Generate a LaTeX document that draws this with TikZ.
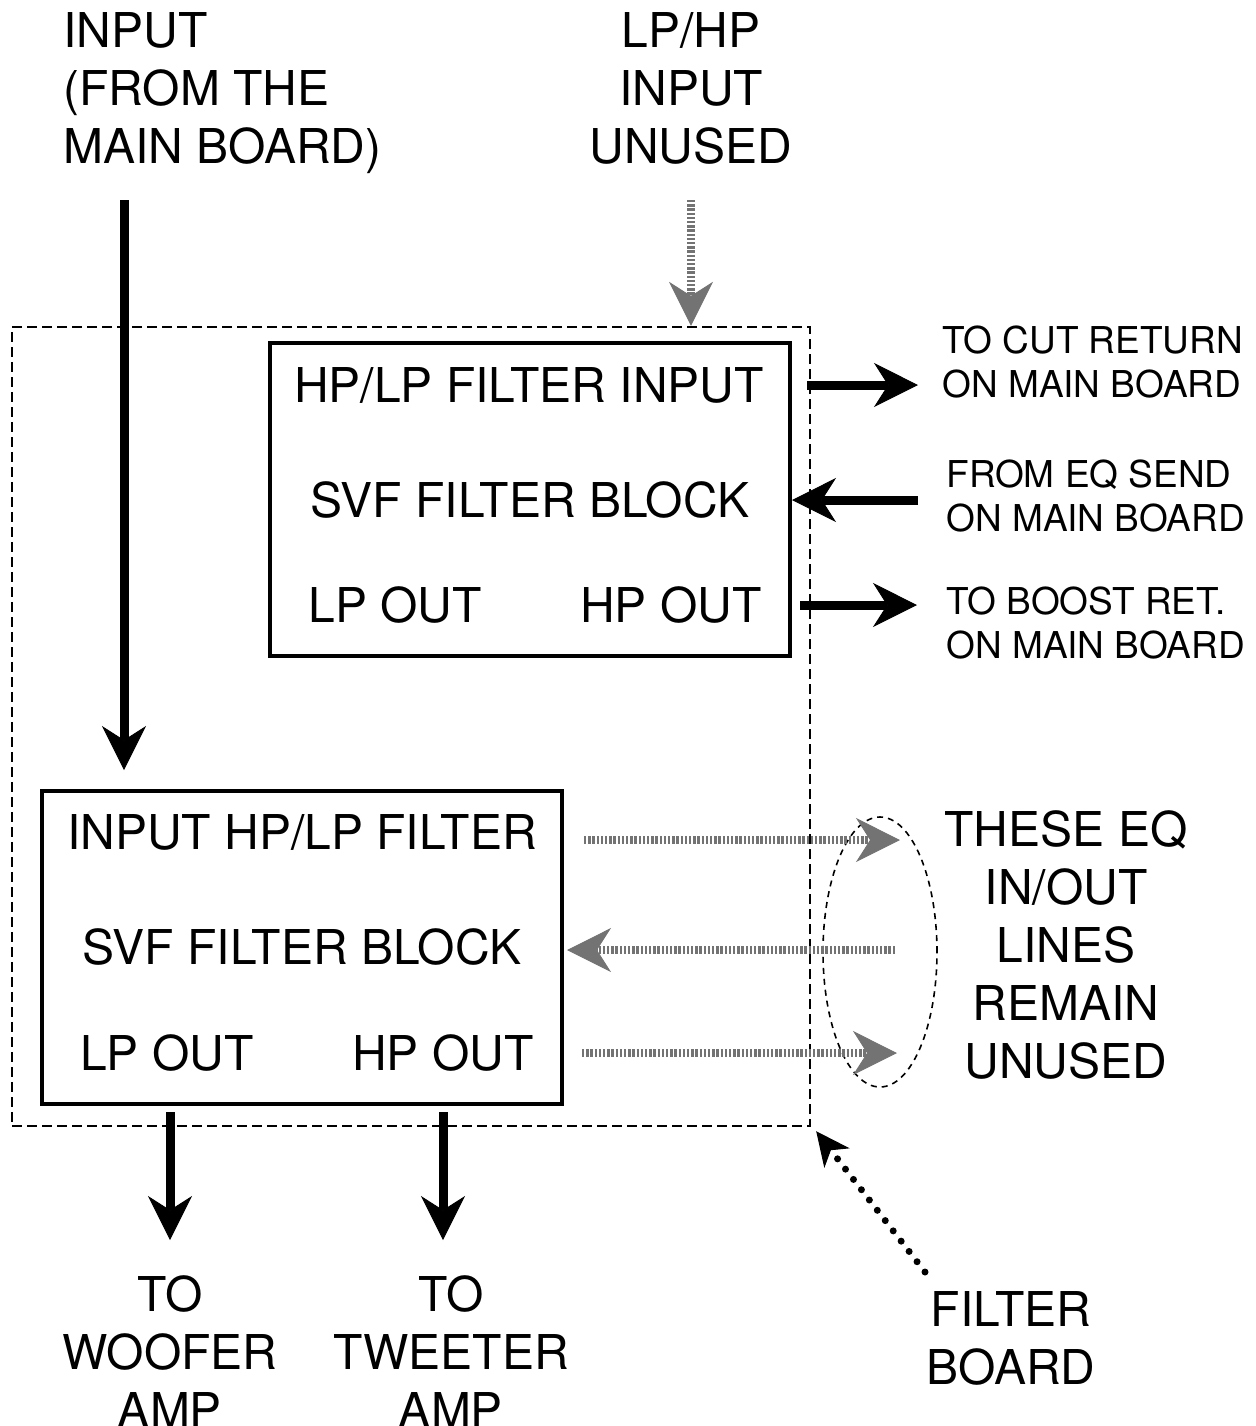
\documentclass[tikz,border=0pt]{standalone}
\usepackage{fontspec}
\setmainfont{TeX Gyre Heros}
\usetikzlibrary{arrows.meta,shapes.geometric}

\tikzset{
  big/.style={font=\fontsize{24}{29}\selectfont, inner sep=0pt},
  small/.style={font=\fontsize{18.5}{22}\selectfont, inner sep=0pt, align=left, anchor=west},
  filterbox/.style={draw, line width=2pt, minimum width=260pt, minimum height=156.5pt, inner sep=0pt},
  board/.style={draw, line width=1.2pt, dash pattern=on 5pt off 2.5pt, minimum width=399pt, minimum height=399.5pt, inner sep=0pt},
  ring/.style={ellipse, draw, line width=0.8pt, dash pattern=on 3pt off 2.5pt, minimum width=57pt, minimum height=135pt, inner sep=0pt},
  bigarrow/.style={line width=4.5pt, -{Stealth[length=22pt,width=22pt,inset=7pt,line width=0.5pt]}},
  hatcharrow/.style={line width=4pt, black!55, dash pattern=on 1.2pt off 0.9pt, -{Stealth[length=22pt,width=22pt,inset=7pt,line width=0.5pt]}},
  dotarrow/.style={line width=3.5pt, line cap=round, dash pattern=on 0pt off 6.5pt, -{Stealth[length=17pt,width=16pt,inset=5pt,line width=0.5pt]}},
}

\begin{document}
\begin{tikzpicture}[x=0.5pt, y=-0.5pt]
\useasboundingbox (0,0) rectangle (1256,1426);
% board and the two filter blocks
\node[board] (board) at (411,726.5) {};
\node[filterbox] (top) at (530,499.5) {};
\node[filterbox] (low) at (302,947.5) {};
\node[ring] (eqring) at (880,952) {};
% texts in the blocks
\node[big] (tin) at (529,385) {HP/LP FILTER INPUT};
\node[big] (tsvf) at (530,500) {SVF FILTER BLOCK};
\node[big] (tlp) at (395,605) {LP OUT};
\node[big] (thp) at (671,605) {HP OUT};
\node[big] (lin) at (302,832) {INPUT HP/LP FILTER};
\node[big] (lsvf) at (302,947) {SVF FILTER BLOCK};
\node[big] (llp) at (167,1053) {LP OUT};
\node[big] (lhp) at (443,1053) {HP OUT};
% outside labels
\node[big, align=left, anchor=west] (input) at (63,93) {INPUT\\(FROM THE\\MAIN BOARD)};
\node[big, align=center] (lphp) at (691,88) {LP/HP\\INPUT\\UNUSED};
\node[small] (cutret) at (942,362) {TO CUT RETURN\\ON MAIN BOARD};
\node[small] (eqsend) at (946,496) {FROM EQ SEND\\ON MAIN BOARD};
\node[small] (boost) at (946,623) {TO BOOST RET.\\ON MAIN BOARD};
\node[big, align=center] (unused) at (1066,945) {THESE EQ\\IN/OUT\\LINES\\REMAIN\\UNUSED};
\node[big, align=center] (woofer) at (170,1352) {TO\\WOOFER\\AMP};
\node[big, align=center] (tweeter) at (451,1352) {TO\\TWEETER\\AMP};
\node[big, align=center] (fboard) at (1011,1338) {FILTER\\BOARD};
\coordinate (inA) at (124,200);
\coordinate (lpA) at (691,200);
\coordinate (fbA) at (925,1272);
% connections
\draw[bigarrow] (inA) -- ([yshift=9.5pt]inA |- low.north);
\draw[hatcharrow] (lpA) -- (lpA |- board.north);
\draw[bigarrow] ([xshift=7.5pt]top.east |- tin) -- ([xshift=-12pt]cutret.west |- tin);
\draw[bigarrow] ([xshift=-14pt]eqsend.west |- tsvf) -- (top.east |- tsvf);
\draw[bigarrow] ([xshift=4pt]top.east |- thp) -- ([xshift=-14.5pt]boost.west |- thp);
\draw[hatcharrow] ([xshift=10pt,yshift=-4pt]low.east |- lin) -- ([xshift=10pt,yshift=-4pt]eqring.center |- lin);
\draw[hatcharrow] ([xshift=7.5pt,yshift=-1.5pt]eqring.center |- lsvf) -- ([xshift=1.5pt,yshift=-1.5pt]low.east |- lsvf);
\draw[hatcharrow] ([xshift=9pt]low.east |- lhp) -- ([xshift=8.5pt]eqring.center |- lhp);
\draw[bigarrow] ([yshift=-3pt]low.south -| woofer) -- ([yshift=-67pt]low.south -| woofer);
\draw[bigarrow] ([yshift=-3pt]low.south -| lhp) -- ([yshift=-67pt]low.south -| lhp);
\draw[dotarrow] (fbA) -- ([shift={(5,4)}]board.south east);
\end{tikzpicture}
\end{document}
